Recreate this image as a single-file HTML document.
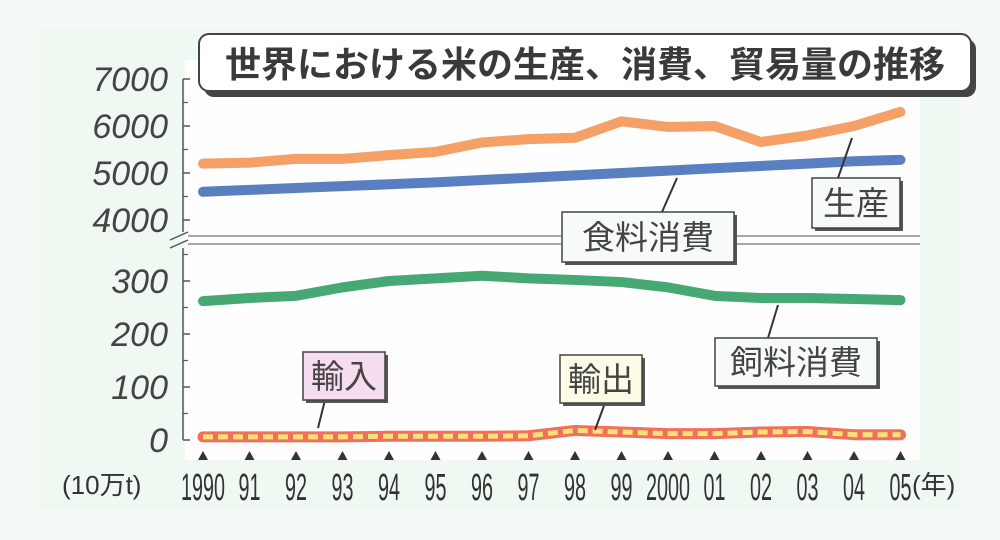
<!DOCTYPE html>
<html><head><meta charset="utf-8">
<style>
body{margin:0;width:1000px;height:540px;background:#f4f9f5;overflow:hidden;font-family:"Liberation Sans","Noto Sans CJK JP",sans-serif;}
svg{display:block}
</style></head>
<body>
<svg width="1000" height="540" viewBox="0 0 1000 540">
<rect x="0" y="0" width="1000" height="540" fill="#f6faf7"/>
<rect x="40" y="30" width="920" height="480" fill="#eff8f1"/>
<rect x="185" y="60" width="735" height="400" fill="#fdfefd"/>
<g id="axes"></g>
<g id="marks"></g>
<g id="labels"></g>
<g>
<rect x="204" y="39" width="772" height="58" rx="10" fill="#444"/>
<rect x="199" y="34" width="772" height="57" rx="10" fill="#fff" stroke="#444" stroke-width="2"/>
<text x="585" y="77" text-anchor="middle" font-size="36" font-weight="bold" fill="#3a3a3a">世界における米の生産、消費、貿易量の推移</text>
</g>
<script>
const years=["1990","91","92","93","94","95","96","97","98","99","2000","01","02","03","04","05"];
const production=[5200,5220,5300,5300,5380,5450,5650,5720,5750,6100,5980,6000,5660,5800,6000,6300];
const foodUse=[4600,4640,4680,4720,4760,4800,4850,4900,4950,5000,5050,5100,5150,5200,5250,5280];
const feedUse=[262,268,272,288,300,305,310,305,302,298,288,272,268,268,266,264];
const imports=[6,6,6,6,7,7,7,8,18,15,12,12,15,16,10,10];
const exportsV=[6,6,6,6,7,7,7,8,18,15,12,12,15,16,10,10];
const upperTicks=[4000,5000,6000,7000];
const lowerTicks=[0,100,200,300];
const NS="http://www.w3.org/2000/svg";
function xPos(i){return 203+i*46.5;}
function yUp(v){return 173-(v-5000)*0.047;}
function yLo(v){return 440-v*0.53;}
function mk(tag,attrs,parent){const e=document.createElementNS(NS,tag);for(const k in attrs)e.setAttribute(k,attrs[k]);parent.appendChild(e);return e;}
const axes=document.getElementById('axes'),marks=document.getElementById('marks'),labels=document.getElementById('labels');
let a1=mk('path',{d:`M183 ${yUp(7000)} L183 232 M183 252 L183 ${yLo(0)}`,stroke:'#555','stroke-width':1.5,fill:'none'},axes);


let br=mk('path',{d:'M170 240 L188 232 M170 248 L188 240 M183 248 L183 252',stroke:'#555','stroke-width':1.5,fill:'none'},axes);


let bl=mk('path',{d:'M188 236 L920 236 M188 244 L920 244',stroke:'#777','stroke-width':1.3,fill:'none'},axes);


upperTicks.forEach(v=>{
  const y=yUp(v);
  mk('line',{x1:183,x2:190,y1:y,y2:y,stroke:'#555','stroke-width':1.5},axes);
  if(v<7000)mk('line',{x1:183,x2:188,y1:yUp(v+500),y2:yUp(v+500),stroke:'#555','stroke-width':1.2},axes);
  const t=mk('text',{x:168,y:y+12,'text-anchor':'end','font-size':34,'font-style':'italic',fill:'#444'},axes);
  t.textContent=v;
  
  
});
lowerTicks.forEach(v=>{
  const y=yLo(v);
  mk('line',{x1:183,x2:190,y1:y,y2:y,stroke:'#555','stroke-width':1.5},axes);
  mk('line',{x1:183,x2:188,y1:yLo(v+50),y2:yLo(v+50),stroke:'#555','stroke-width':1.2},axes);
  const t=mk('text',{x:168,y:y+12,'text-anchor':'end','font-size':34,'font-style':'italic',fill:'#444'},axes);
  t.textContent=v;
  
  
});
years.forEach((yr,i)=>{
  const x=xPos(i);
  mk('path',{d:`M${x-5} 460 L${x+5} 460 L${x} 451 Z`,fill:'#333'},axes);
  const t=mk('text',{x:x,y:500,'text-anchor':'middle','font-size':38,fill:'#333',transform:`translate(${x} 0) scale(0.52 1) translate(${-x} 0)`},axes);
  t.textContent=yr;
  
  
});
let u=mk('text',{x:62,y:494,'font-size':26,fill:'#333'},axes);u.textContent='(10万t)';


let nn=mk('text',{x:912,y:494,'font-size':26,fill:'#333'},axes);nn.textContent='(年)';


function line(arr,yf,color,w,name,extra){
  const d=arr.map((v,i)=>(i?'L':'M')+xPos(i)+' '+yf(v)).join(' ');
  const p=mk('path',Object.assign({d:d,stroke:color,'stroke-width':w,fill:'none','stroke-linecap':'round','stroke-linejoin':'round'},extra||{}),marks);
  
  
}
line(production,yUp,'#f4a066',10,'production-line');
line(foodUse,yUp,'#5a7fc0',10,'food-consumption-line');
line(feedUse,yLo,'#46a872',10,'feed-consumption-line');
line(imports,yLo,'#f2705a',11,'import-line');
line(exportsV,yLo,'#f7e27a',5,'export-line',{'stroke-dasharray':'10 5','stroke-linecap':'butt'});
function box(x,y,w,h,txt,fill,name,lx1,ly1,lx2,ly2){
  mk('line',{x1:lx1,y1:ly1,x2:lx2,y2:ly2,stroke:'#333','stroke-width':2},labels);
  mk('rect',{x:x+3,y:y+3,width:w,height:h,fill:'#555'},labels);
  const r=mk('rect',{x:x,y:y,width:w,height:h,fill:fill,stroke:'#444','stroke-width':1.5},labels);
  
  
  const t=mk('text',{x:x+w/2,y:y+h/2+12,'text-anchor':'middle','font-size':33,fill:'#444'},labels);
  t.textContent=txt;
  
  
}
box(812,178,88,50,'生産','#f6fbf8','production-label',838,178,852,138);
box(562,212,172,50,'食料消費','#f6fbf8','food-consumption-label',662,212,677,178);
box(715,338,162,48,'飼料消費','#f6fbf8','feed-consumption-label',768,338,778,305);
box(303,352,82,48,'輸入','#f6dcef','import-label',325,400,318,428);
box(560,355,82,48,'輸出','#fbfbe6','export-label',605,403,595,430);
</script>
</svg>
</body></html>
